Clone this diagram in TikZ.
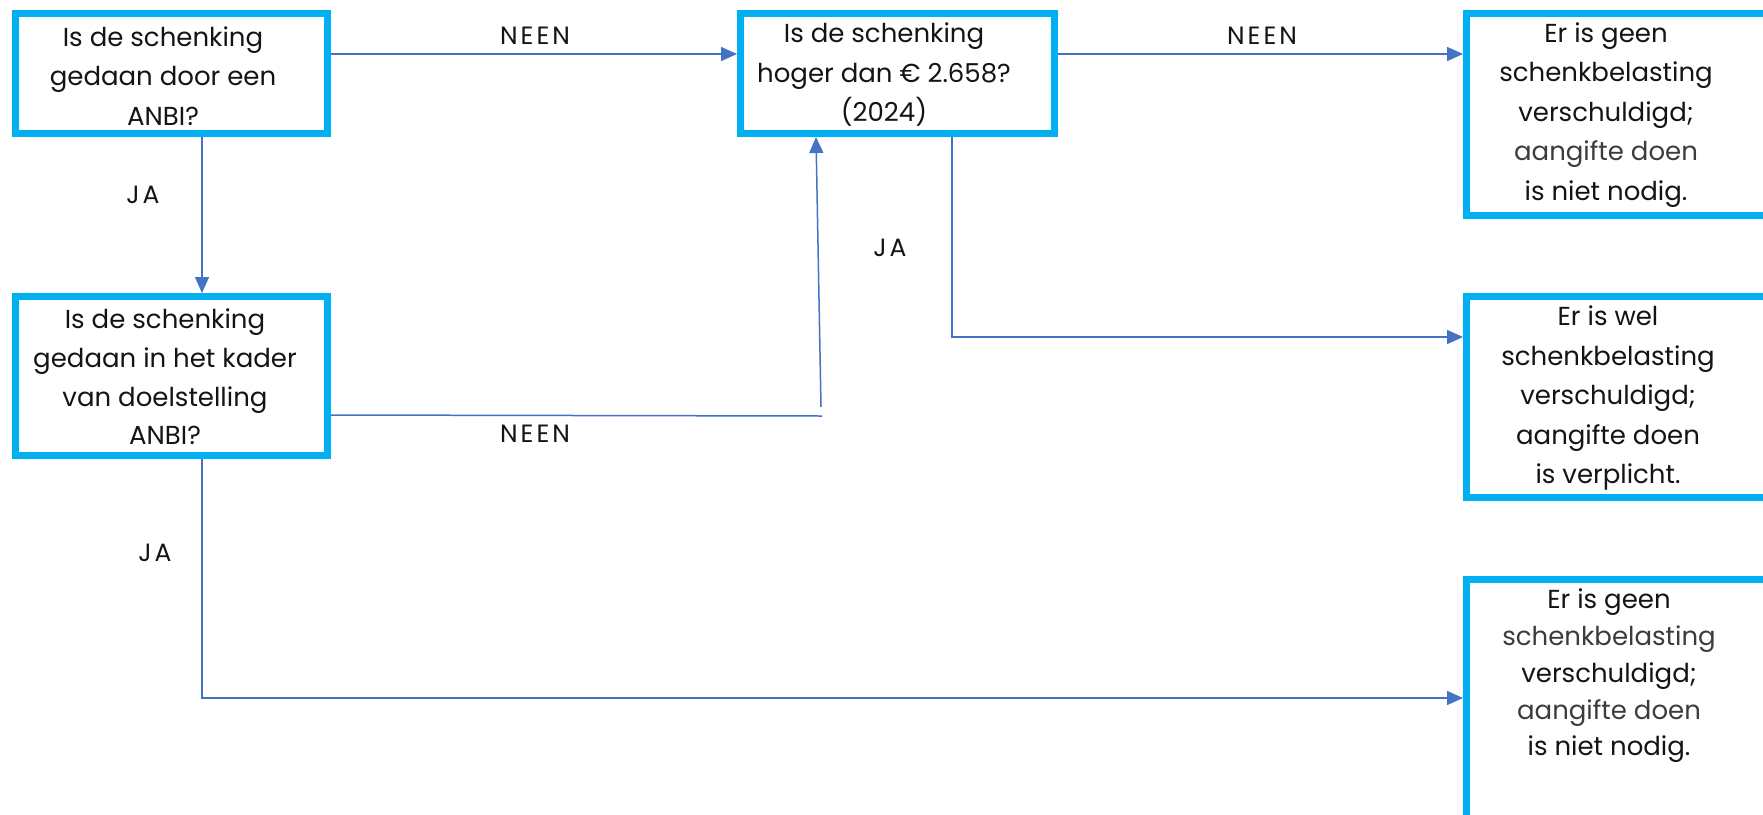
\documentclass[tikz,border=0pt]{standalone}
\usepackage{fontspec}
\setmainfont{Poppins}
\usetikzlibrary{arrows.meta}
\definecolor{boxblue}{HTML}{00B0F0}
\definecolor{lineblue}{HTML}{4472C4}
\definecolor{txt}{HTML}{141414}
\definecolor{txtlight}{HTML}{3C3C3C}
\newcommand{\ls}[1]{#1}
\tikzset{
  qbox/.style={draw=boxblue, line width=7pt, fill=white, rectangle, inner sep=0pt},
  conn/.style={draw=lineblue, line width=1.5pt},
  arr/.style={conn, -{Triangle[length=16pt,width=14pt]}},
  boxtext/.style={align=center, text=txt, font=\fontsize{26}{39.5}\selectfont, inner sep=0pt},
  lbl/.style={text=txt, font=\fontsize{25}{28}\selectfont, inner sep=0pt}
}
\begin{document}
\begin{tikzpicture}[x=1pt,y=-1pt]
\clip (0,0) rectangle (1763,814);
\fill[white] (0,0) rectangle (1763,814);
% boxes
\node[qbox, minimum width=312pt, minimum height=120pt] (b1) at (171.5,73.5) {};
\node[qbox, minimum width=314pt, minimum height=120pt] (b2) at (897.5,73.5) {};
\node[qbox, minimum width=330pt, minimum height=202pt] (b3) at (1631.5,114.5) {};
\node[qbox, minimum width=312pt, minimum height=159pt] (b4) at (171.5,376) {};
\node[qbox, minimum width=330pt, minimum height=201pt] (b5) at (1631.5,397) {};
\node[qbox, minimum width=330pt, minimum height=267pt] (b6) at (1631.5,713) {};
% texts
\node[boxtext] (t1) at (163,76) {Is de schenking\\gedaan door een\\ANBI?};
\node[boxtext] (t2) at (884,75) {Is de schenking\\hoger dan € 2.658?\\(2024)};
\node[boxtext] (t3) at (1606,115) {Er is geen\\schenkbelasting\\verschuldigd;\\\textcolor{txtlight}{aangifte doen}\\is niet nodig.};
\node[boxtext, font=\fontsize{26}{38.7}\selectfont] (t4) at (165,377) {Is de schenking\\gedaan in het kader\\van doelstelling\\ANBI?};
\node[boxtext] (t5) at (1608,398) {Er is wel\\schenkbelasting\\verschuldigd;\\aangifte doen\\is verplicht.};
\node[boxtext, font=\fontsize{26}{36.8}\selectfont] (t6) at (1609,676) {Er is geen\\\textcolor{txtlight}{schenkbelasting}\\verschuldigd;\\\textcolor{txtlight}{aangifte doen}\\is niet nodig.};
% labels
\node[lbl] (l1) at (535,36) {N\kern3pt E\kern3pt E\kern3pt N};
\node[lbl] (l2) at (1262,36) {N\kern3pt E\kern3pt E\kern3pt N};
\node[lbl] (l3) at (143,195) {J\kern3pt A};
\node[lbl] (l4) at (890,248) {J\kern3pt A};
\node[lbl] (l5) at (535,434) {N\kern3pt E\kern3pt E\kern3pt N};
\node[lbl] (l6) at (155,553) {J\kern3pt A};
% helper coordinates
\coordinate (r1) at (0,54);
\coordinate (c1) at (202,0);
\coordinate (r2) at (0,415);
\coordinate (n1) at (822,416);
\coordinate (n2) at (821,407);
\coordinate (c2) at (816,0);
\coordinate (c3) at (952,0);
\coordinate (r3) at (0,337);
\coordinate (r4) at (0,698);
% connectors
\draw[arr] (b1.east |- r1) -- (b2.west |- r1);
\draw[arr] (b2.east |- r1) -- (b3.west |- r1);
\draw[arr] (b1.south -| c1) -- (b4.north -| c1);
\draw[conn] (b4.east |- r2) -- (n1);
\draw[arr] (n2) -- (b2.south -| c2);
\draw[arr] (b2.south -| c3) |- (b5.west |- r3);
\draw[arr] (b4.south -| c1) |- (b6.west |- r4);
\end{tikzpicture}
\end{document}
